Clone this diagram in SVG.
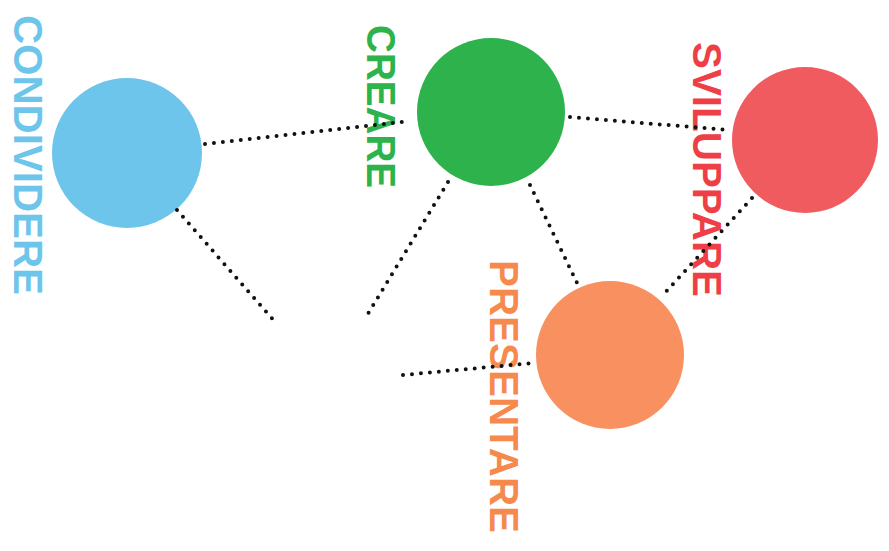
<svg xmlns="http://www.w3.org/2000/svg" width="889" height="551" viewBox="0 0 889 551">
<style>
.lbl{font-family:"Liberation Sans",Arial,sans-serif;font-weight:bold;font-size:40px}
.conn{stroke:#111;stroke-width:4;stroke-linecap:round;stroke-dasharray:0 9;fill:none}
</style>
<rect width="889" height="551" fill="#ffffff"/>
<g id="node-condividere">
<circle cx="127" cy="153" r="75" fill="#6ec5ec"/>
<text class="lbl" fill="#6ec5ec" transform="translate(14,15) rotate(90)" textLength="280" lengthAdjust="spacingAndGlyphs">CONDIVIDERE</text>
</g>
<g id="node-creare">
<circle cx="491" cy="112" r="74" fill="#2eb24c"/>
<text class="lbl" fill="#2eb24c" transform="translate(367,25) rotate(90)" textLength="163" lengthAdjust="spacingAndGlyphs">CREARE</text>
</g>
<g id="node-sviluppare">
<circle cx="805" cy="140" r="73" fill="#f05b60"/>
<text class="lbl" fill="#ee3e46" transform="translate(693,42) rotate(90)" textLength="255" lengthAdjust="spacingAndGlyphs">SVILUPPARE</text>
</g>
<g id="node-presentare">
<circle cx="610" cy="355" r="74" fill="#f8915f"/>
<text class="lbl" fill="#f68a4c" transform="translate(490,260) rotate(90)" textLength="273" lengthAdjust="spacingAndGlyphs">PRESENTARE</text>
</g>
<g id="node-blank">
<circle cx="318" cy="400" r="78" fill="#ffffff"/>
</g>
<g id="connectors">
<line class="conn" x1="205" y1="144" x2="410" y2="121"/>
<line class="conn" x1="570" y1="117" x2="728" y2="130"/>
<line class="conn" x1="177" y1="210" x2="276" y2="323"/>
<line class="conn" x1="448" y1="182" x2="366" y2="317"/>
<line class="conn" x1="530" y1="185" x2="578" y2="285"/>
<line class="conn" x1="752" y1="198" x2="663" y2="295"/>
<line class="conn" x1="403" y1="375" x2="533" y2="363"/>
</g>
</svg>
